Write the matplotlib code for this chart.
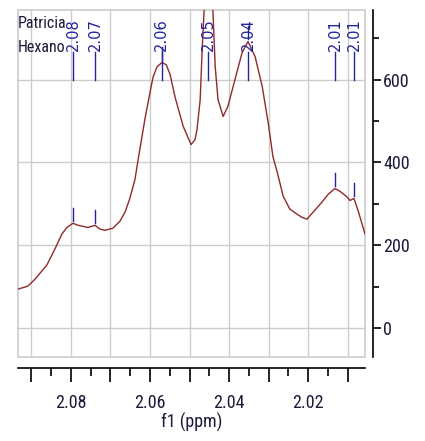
import numpy as np
import matplotlib
matplotlib.use("Agg")
import matplotlib.pyplot as plt
from matplotlib.ticker import MultipleLocator, FuncFormatter
from matplotlib.patches import Rectangle
import matplotlib.transforms as mtransforms

# 1H spectrum, f1 in ppm (descending) and intensity
ppm = [2.0934, 2.0909, 2.0891, 2.0861, 2.0841, 2.0823, 2.0810, 2.0795, 2.0782,
       2.0757, 2.0739, 2.0727, 2.0714, 2.0694, 2.0676, 2.0663, 2.0651, 2.0638,
       2.0630, 2.0613, 2.0600, 2.0592, 2.0582, 2.0570, 2.0559, 2.0549, 2.0542,
       2.0537, 2.0516, 2.0496, 2.0486, 2.0481, 2.0473, 2.0468, 2.0463, 2.0458,
       2.0452, 2.0446, 2.0441, 2.0435, 2.0428, 2.0415, 2.0403, 2.0385, 2.0367,
       2.0352, 2.0334, 2.0316, 2.0301, 2.0289, 2.0278, 2.0263, 2.0246, 2.0228,
       2.0215, 2.0203, 2.0187, 2.0165, 2.0149, 2.0132, 2.0119, 2.0101, 2.0094,
       2.0084, 2.0073, 2.0056]
intensity = [94, 101, 118, 152, 190, 227, 243, 253, 248,
             243, 248, 239, 236, 241, 258, 280, 313, 359,
             407, 504, 569, 607, 631, 641, 636, 612, 581,
             559, 487, 443, 455, 480, 552, 672, 769, 960,
             1100, 960, 769, 631, 552, 511, 535, 600, 665,
             692, 655, 583, 496, 414, 376, 318, 287, 275,
             267, 263, 280, 304, 323, 337, 330, 316, 308,
             313, 282, 227]

# picked peaks
peak_ppm = [2.0795, 2.0739, 2.0570, 2.0452, 2.0352, 2.0132, 2.0084]

sample_name = ["Patricia", "Hexano"]
x_label = "f1 (ppm)"

condensed = ["Roboto Condensed", "Liberation Sans", "DejaVu Sans"]
plt.rcParams["font.family"] = condensed

spec_color = "#8e2a2a"
peak_color = "#23239a"
grid_color = "#cccccc"
text_color = "#1a1a3a"

fig = plt.figure(figsize=(4.25, 4.41), dpi=100)
ax = fig.add_axes([18 / 425, 84 / 441, 347 / 425, 347 / 441])

ax.plot(ppm, intensity, color=spec_color, lw=1.0, zorder=3)

ax.set_xlim(2.0934, 2.0056)
ax.set_ylim(-70, 768)

# light frame around the data area
ax.add_patch(Rectangle((0, 0), 1, 1, transform=ax.transAxes, fill=False,
                       edgecolor=grid_color, lw=1.2, zorder=1, clip_on=False))

# detached axis lines on the bottom and right
for side in ("top", "left"):
    ax.spines[side].set_visible(False)
ax.spines["bottom"].set_position(("outward", 8))
ax.spines["right"].set_position(("outward", 6))
for side in ("bottom", "right"):
    ax.spines[side].set_color("black")
    ax.spines[side].set_linewidth(1.2)

ax.xaxis.set_major_locator(MultipleLocator(0.01))
ax.xaxis.set_minor_locator(MultipleLocator(0.005))
ax.xaxis.set_major_formatter(FuncFormatter(
    lambda v, p: f"{v:.2f}" if round(v * 100) % 2 == 0 else ""))
ax.yaxis.set_major_locator(MultipleLocator(200))
ax.yaxis.set_minor_locator(MultipleLocator(100))
ax.yaxis.tick_right()
ax.yaxis.set_label_position("right")

ax.tick_params(axis="x", which="major", length=10, width=1.2, pad=9,
               labelsize=13, labelcolor=text_color)
ax.tick_params(axis="x", which="minor", length=6, width=1.2)
ax.tick_params(axis="y", which="major", length=6, width=1.2, pad=1,
               labelsize=13, labelcolor=text_color)
ax.tick_params(axis="y", which="minor", length=4, width=1.2)

ax.grid(True, which="major", color=grid_color, lw=1.0, zorder=0)
ax.set_axisbelow(True)

ax.set_xlabel(x_label, fontsize=13, color=text_color, labelpad=0)

# peak labels and markers
peak_height = np.interp(peak_ppm, ppm[::-1], intensity[::-1])
trans = mtransforms.blended_transform_factory(ax.transData, ax.transAxes)
for p, h in zip(peak_ppm, peak_height):
    ax.plot([p, p], [h + 6, h + 38], color=peak_color, lw=1.0, zorder=4)
    ax.plot([p, p], [0.798, 0.879], color=peak_color, lw=1.0, transform=trans,
            zorder=4)
    ax.text(p, 0.882, f"{p:.2f}", transform=trans, rotation=90,
            ha="center", va="bottom", fontsize=10.5, color=peak_color,
            family=["DejaVu Sans"], zorder=5)

ax.text(0.0, 0.982, "\n".join(sample_name), transform=ax.transAxes,
        ha="left", va="top", fontsize=11.5, color=text_color,
        linespacing=1.75, zorder=5)

fig.savefig("out.png", dpi=100)
